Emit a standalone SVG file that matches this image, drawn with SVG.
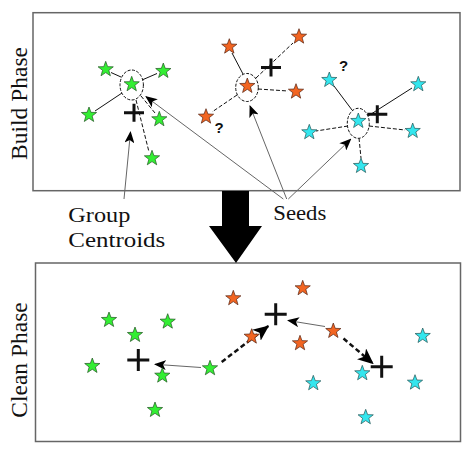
<svg xmlns="http://www.w3.org/2000/svg" xmlns:xlink="http://www.w3.org/1999/xlink" width="474" height="456" viewBox="0 0 474 456">
<style>
.box{fill:#fff;stroke:#666;stroke-width:1.5}
.lbl{font-family:"Liberation Serif","Times New Roman",serif;font-size:22px;fill:#111}
.phase{font-family:"Liberation Serif","Times New Roman",serif;font-size:23.5px;fill:#111}
.q{font-family:"Liberation Sans",Arial,sans-serif;font-weight:bold;font-size:15px;fill:#111}
.sol{stroke:#111;stroke-width:1;fill:none}
.dsh{stroke:#111;stroke-width:1;fill:none;stroke-dasharray:4 2}
.ell{fill:none;stroke:#111;stroke-width:1;stroke-dasharray:3 1.5}
.thin{stroke:#666;stroke-width:1;fill:none;marker-end:url(#ah)}
.thick{stroke:#111;stroke-width:2.5;fill:none;stroke-dasharray:5 3;marker-end:url(#ahb)}
.plus{stroke:#111;stroke-width:3;fill:none}
.g{fill:#33ee33;stroke:#225522;stroke-width:0.7}
.o{fill:#f26522;stroke:#552211;stroke-width:0.7}
.c{fill:#33e6ee;stroke:#225555;stroke-width:0.7}
</style>
<defs>
<path id="star" d="M0,-8 L1.94,-2.67 7.61,-2.47 3.14,1.02 4.70,6.47 0,3.3 -4.70,6.47 -3.14,1.02 -7.61,-2.47 -1.94,-2.67 Z"/>
<path id="pl" d="M-10,0 H10 M0,-9 V9"/>
<path id="plb" d="M-11,0 H11 M0,-11 V11"/>
<marker id="ah" markerUnits="userSpaceOnUse" markerWidth="12" markerHeight="10" refX="11" refY="5" orient="auto">
<path d="M0,0 L12,5 L0,10 L3,5 Z" fill="#000"/>
</marker>
<marker id="ahb" markerUnits="userSpaceOnUse" markerWidth="16" markerHeight="14" refX="15" refY="7" orient="auto">
<path d="M0,0 L16,7 L0,14 L4,7 Z" fill="#000"/>
</marker>
</defs>

<g id="build-phase">
<rect class="box" x="33" y="12.7" width="427" height="178"/>
<text class="phase" transform="translate(27,103.5) rotate(-90)" text-anchor="middle">Build Phase</text>
</g>
<g id="clean-phase">
<rect class="box" x="35.5" y="263" width="425" height="178.5"/>
<text class="phase" transform="translate(27,360) rotate(-90)" text-anchor="middle">Clean Phase</text>
</g>

<g id="connectors">
<!-- green group -->
<line class="sol" x1="121" y1="77" x2="111" y2="72.5"/>
<line class="sol" x1="142" y1="80" x2="157" y2="73.5"/>
<line class="sol" x1="122" y1="93" x2="95" y2="111"/>
<line class="dsh" x1="141" y1="96" x2="155" y2="113"/>
<line class="dsh" x1="136" y1="100" x2="149" y2="152"/>
<!-- orange group -->
<line class="sol" x1="243" y1="74" x2="232" y2="53"/>
<line class="dsh" x1="256" y1="78" x2="293" y2="43"/>
<line class="dsh" x1="258" y1="89" x2="288" y2="91"/>
<line class="dsh" x1="237" y1="95" x2="212" y2="112"/>
<!-- cyan group -->
<line class="sol" x1="352" y1="110" x2="334" y2="86"/>
<line class="sol" x1="368" y1="116" x2="412" y2="88"/>
<line class="dsh" x1="369" y1="126" x2="405" y2="130"/>
<line class="dsh" x1="348" y1="126" x2="316" y2="131"/>
<line class="dsh" x1="359" y1="138" x2="361" y2="158"/>
<!-- label arrows -->
<line class="thin" x1="124" y1="199" x2="130.5" y2="132"/>
<line class="thin" x1="283.3" y1="199" x2="146" y2="96.7"/>
<line class="thin" x1="286.7" y1="199" x2="250" y2="106"/>
<line class="thin" x1="288.3" y1="199" x2="350.7" y2="139.3"/>
<!-- clean phase arrows -->
<line class="thin" x1="201" y1="367.5" x2="155" y2="364.3"/>
<line class="thick" x1="221.7" y1="362" x2="268.3" y2="326"/>
<line class="thin" x1="325" y1="326.5" x2="288" y2="320.5"/>
<line class="thick" x1="343.5" y1="338.5" x2="373" y2="363.5"/>
</g>

<g id="big-arrow">
<polygon points="222,191 249,191 249,226 262,226 236,263 209,226 222,226" fill="#000"/>
</g>

<g id="labels">
<text class="lbl" x="68.3" y="221.7" textLength="62" lengthAdjust="spacingAndGlyphs">Group</text>
<text class="lbl" x="68.3" y="246.7" textLength="97" lengthAdjust="spacingAndGlyphs">Centroids</text>
<text class="lbl" x="273.3" y="220" textLength="53" lengthAdjust="spacingAndGlyphs">Seeds</text>
<text class="q" x="219" y="133" text-anchor="middle">?</text>
<text class="q" x="343.5" y="71" text-anchor="middle">?</text>
</g>

<g id="green-seed">
<ellipse class="ell" cx="131.7" cy="85" rx="11.7" ry="15"/>
<use href="#star" class="g" x="131.7" y="84.3"/>
</g>
<g id="orange-seed">
<ellipse class="ell" cx="247" cy="87.5" rx="11.3" ry="14"/>
<use href="#star" class="o" x="247.3" y="86"/>
</g>
<g id="cyan-seed">
<ellipse class="ell" cx="358.3" cy="123.3" rx="11" ry="15"/>
<use href="#star" class="c" x="358.3" y="121"/>
</g>

<g id="build-stars">
<use href="#star" class="g" x="105.7" y="69.3"/>
<use href="#star" class="g" x="163.3" y="71"/>
<use href="#star" class="g" x="89" y="115"/>
<use href="#star" class="g" x="159.3" y="119.3"/>
<use href="#star" class="g" x="152" y="158.3"/>
<use href="#star" class="o" x="229.3" y="46.7"/>
<use href="#star" class="o" x="299" y="36.7"/>
<use href="#star" class="o" x="296" y="91.7"/>
<use href="#star" class="o" x="206" y="116.7"/>
<use href="#star" class="c" x="329.3" y="80"/>
<use href="#star" class="c" x="418.3" y="84.3"/>
<use href="#star" class="c" x="309.3" y="132.3"/>
<use href="#star" class="c" x="412.7" y="131"/>
<use href="#star" class="c" x="361" y="166"/>
</g>

<g id="build-centroids">
<use href="#pl" class="plus" x="134" y="112.7"/>
<use href="#pl" class="plus" x="271" y="67.5"/>
<use href="#pl" class="plus" x="377.3" y="114.3"/>
</g>

<g id="clean-stars">
<use href="#star" class="g" x="109" y="320"/>
<use href="#star" class="g" x="135" y="335"/>
<use href="#star" class="g" x="167.7" y="321.7"/>
<use href="#star" class="g" x="92.3" y="366"/>
<use href="#star" class="g" x="162.3" y="375.7"/>
<use href="#star" class="g" x="210" y="368.3"/>
<use href="#star" class="g" x="155" y="410"/>
<use href="#star" class="o" x="233.3" y="298.3"/>
<use href="#star" class="o" x="302.7" y="288.3"/>
<use href="#star" class="o" x="251.7" y="336.7"/>
<use href="#star" class="o" x="300" y="343.3"/>
<use href="#star" class="o" x="333.3" y="331"/>
<use href="#star" class="c" x="422.7" y="336"/>
<use href="#star" class="c" x="362.3" y="373.3"/>
<use href="#star" class="c" x="313.3" y="383.3"/>
<use href="#star" class="c" x="415" y="382.7"/>
<use href="#star" class="c" x="365.7" y="417.3"/>
</g>

<g id="clean-centroids">
<use href="#plb" class="plus" x="138.3" y="360"/>
<use href="#plb" class="plus" x="275.7" y="314.3"/>
<use href="#plb" class="plus" x="381.7" y="366.7"/>
</g>
</svg>
